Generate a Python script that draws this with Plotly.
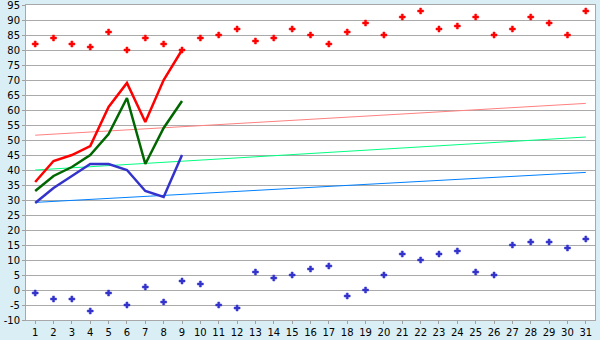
import plotly.graph_objects as go

days = list(range(1, 32))
month_days = list(range(1, 10))

high = [36, 43, 45, 48, 61, 69, 56, 70, 80]
mean = [33, 38, 41, 45, 52, 64, 42, 54, 63]
low = [29, 34, 38, 42, 42, 40, 33, 31, 45]

record_high = [82, 84, 82, 81, 86, 80, 84, 82, 80, 84, 85, 87, 83, 84, 87, 85,
               82, 86, 89, 85, 91, 93, 87, 88, 91, 85, 87, 91, 89, 85, 93]
record_low = [-1, -3, -3, -7, -1, -5, 1, -4, 3, 2, -5, -6, 6, 4, 5, 7,
              8, -2, 0, 5, 12, 10, 12, 13, 6, 5, 15, 16, 16, 14, 17]

normal_x = [1, 31]
normal_high = [51.6, 62.2]
normal_mean = [40.0, 51.0]
normal_low = [29.2, 39.2]

y_ticks = list(range(-10, 100, 5))

fig = go.Figure()

fig.add_trace(go.Scatter(x=normal_x, y=normal_high, mode="lines",
                         line=dict(color="#FF8080", width=1)))
fig.add_trace(go.Scatter(x=normal_x, y=normal_mean, mode="lines",
                         line=dict(color="#00FF80", width=1)))
fig.add_trace(go.Scatter(x=normal_x, y=normal_low, mode="lines",
                         line=dict(color="#0080FF", width=1)))

fig.add_trace(go.Scatter(x=days, y=record_high, mode="markers",
                         marker=dict(symbol="cross", size=5, color="#FF0000",
                                     line=dict(width=0.5, color="#FF0000"))))
fig.add_trace(go.Scatter(x=days, y=record_low, mode="markers",
                         marker=dict(symbol="cross", size=5, color="#3333CC",
                                     line=dict(width=0.5, color="#3333CC"))))

fig.add_trace(go.Scatter(x=month_days, y=high, mode="lines",
                         line=dict(color="#FF0000", width=2.5)))
fig.add_trace(go.Scatter(x=month_days, y=mean, mode="lines",
                         line=dict(color="#006600", width=2.5)))
fig.add_trace(go.Scatter(x=month_days, y=low, mode="lines",
                         line=dict(color="#3333CC", width=2.5)))

fig.update_layout(
    width=600, height=340,
    margin=dict(l=26, r=5, t=5, b=20),
    paper_bgcolor="#D9EFF5",
    plot_bgcolor="#FFFFFF",
    showlegend=False,
    font=dict(family="DejaVu Sans", size=10, color="#000000"),
)
fig.update_xaxes(
    range=[0.5, 31.5], tickmode="array", tickvals=days,
    ticktext=[str(d) for d in days],
    ticks="outside", ticklen=3, tickcolor="#A0A0A0",
    tickfont=dict(size=10), ticklabeloverflow="allow",
    showgrid=False, showline=True, linecolor="#A8A8A8", linewidth=1,
    mirror=True, zeroline=False, automargin=False,
)
fig.update_yaxes(
    range=[-10, 95.001], tickmode="array", tickvals=y_ticks,
    ticktext=[str(v) for v in y_ticks],
    ticks="outside", ticklen=3, tickcolor="#A0A0A0",
    tickfont=dict(size=10), ticklabeloverflow="allow",
    showgrid=True, gridcolor="#AAAAAA", gridwidth=1,
    showline=True, linecolor="#A8A8A8", linewidth=1,
    mirror=True, zeroline=False, automargin=False,
)

fig.write_html("out.html")
